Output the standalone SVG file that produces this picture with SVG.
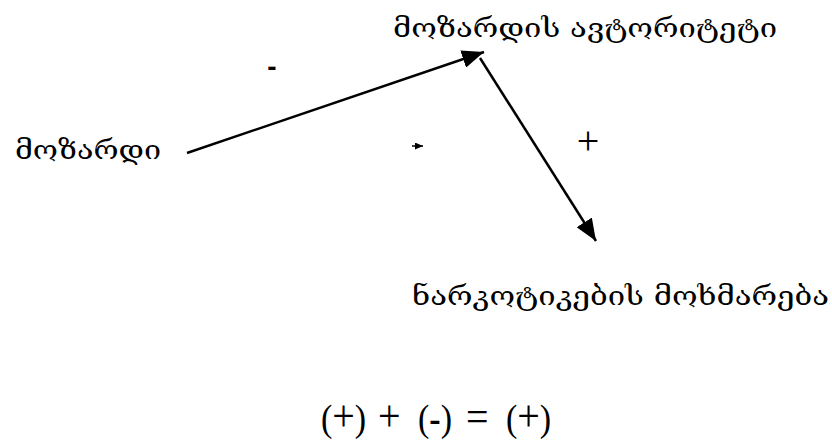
<svg xmlns="http://www.w3.org/2000/svg" width="832" height="441" viewBox="0 0 832 441">
<style>
.ge{font-family:"DejaVu Serif","DejaVu Sans",serif;font-size:27px;fill:#000}
.sign{font-family:"Liberation Sans",Arial,sans-serif;fill:#000}
.f{font-family:"Liberation Serif","Times New Roman",serif;font-size:34px;fill:#000}
.p{font-size:40px}
.ln{stroke:#000;stroke-width:2.5;fill:none}
</style>
<defs>
<marker id="ah" viewBox="0 0 10 10" refX="10" refY="5" markerWidth="8" markerHeight="7" markerUnits="userSpaceOnUse" orient="auto" preserveAspectRatio="none">
<path d="M0,0 L10,5 L0,10 z" fill="#000"/>
</marker>
<marker id="big" viewBox="0 0 10 10" refX="10" refY="5" markerWidth="22" markerHeight="18" markerUnits="userSpaceOnUse" orient="auto" preserveAspectRatio="none">
<path d="M0,0 L10,5 L0,10 z" fill="#000"/>
</marker>
</defs>
<rect width="832" height="441" fill="#fff"/>
<g id="connectors">
<line class="ln" x1="187" y1="153" x2="484" y2="52" marker-end="url(#big)"/>
<line class="ln" x1="480" y1="58" x2="596" y2="241" marker-end="url(#big)"/>
<line x1="412" y1="146" x2="423" y2="146" stroke="#000" stroke-width="1.5" marker-end="url(#ah)"/>
</g>
<g id="node-avtoriteti"><text class="ge" x="393" y="37" textLength="384" lengthAdjust="spacingAndGlyphs">მოზარდის ავტორიტეტი</text></g>
<g id="node-mozardi"><text class="ge" x="15" y="159" textLength="146" lengthAdjust="spacingAndGlyphs">მოზარდი</text></g>
<g id="node-narkotikebi"><text class="ge" x="412" y="305" textLength="417" lengthAdjust="spacingAndGlyphs">ნარკოტიკების მოხმარება</text></g>
<g id="labels">
<text class="sign" x="272" y="76" style="font-size:28px;font-weight:bold" text-anchor="middle">-</text>
<text class="f p" x="588" y="154" text-anchor="middle">+</text>
<g transform="translate(0,431) scale(1,1.12)">
<text class="f" y="0"><tspan x="321">(</tspan><tspan class="p">+</tspan><tspan>)</tspan><tspan x="378" class="p">+</tspan><tspan x="418">(<tspan style="font-weight:bold">-</tspan>)</tspan><tspan x="466" class="p">=</tspan><tspan x="506">(</tspan><tspan class="p">+</tspan><tspan>)</tspan></text>
</g>
</g>
</svg>
